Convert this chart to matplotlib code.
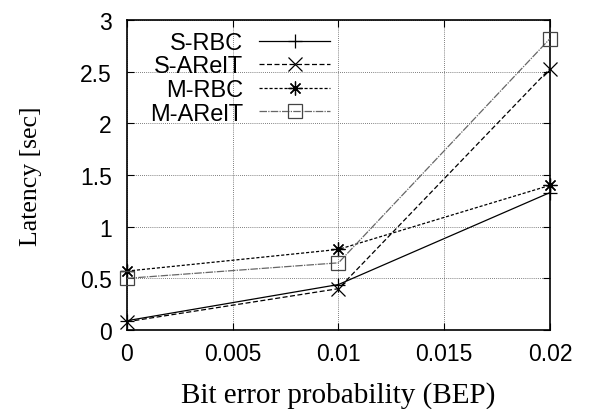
import matplotlib
matplotlib.use("Agg")
import matplotlib.pyplot as plt

BEP = [0.0, 0.01, 0.02]
S_RBC = [0.09, 0.44, 1.33]
S_ARELT = [0.08, 0.40, 2.53]
M_RBC = [0.57, 0.78, 1.40]
M_ARELT = [0.50, 0.65, 2.82]

XTICKS = [0, 0.005, 0.01, 0.015, 0.02]
XTICKLABELS = ["0", "0.005", "0.01", "0.015", "0.02"]
YTICKS = [0, 0.5, 1, 1.5, 2, 2.5, 3]
YTICKLABELS = ["0", "0.5", "1", "1.5", "2", "2.5", "3"]

plt.rcParams.update({
    "font.family": ["Liberation Sans", "DejaVu Sans"],
    "font.size": 16.5,
})

fig = plt.figure(figsize=(5.89, 4.10), dpi=100)
ax = fig.add_axes([0.2156, 0.1927, 0.7182, 0.7561])

# (label, values, colour, marker, linestyle)
SERIES = [
    ("S-RBC", S_RBC, "black", "+", "-"),
    ("S-ARelT", S_ARELT, "black", "x", (0, (4, 2))),
    ("M-RBC", M_RBC, "black", (8, 2, 0), (0, (2.5, 1.5))),
    ("M-ARelT", M_ARELT, "#666666", "s", (0, (6, 1, 1, 1))),
]

for name, ys, color, marker, ls in SERIES:
    ax.plot(BEP, ys, color=color, ls=ls, lw=0.9, marker=marker, ms=10,
            mew=0.9, mfc="none", mec="black" if marker != "s" else "#444444",
            label=name, clip_on=False, zorder=3)

ax.set_xlim(0, 0.02)
ax.set_ylim(0, 3)
ax.set_xticks(XTICKS)
ax.set_xticklabels(XTICKLABELS)
ax.set_yticks(YTICKS)
ax.set_yticklabels(YTICKLABELS)
ax.tick_params(direction="in", length=5, width=0.8, top=True, right=True,
               labelsize=16.5)
ax.tick_params(axis="x", pad=9)
ax.tick_params(axis="y", pad=11)
for s in ax.spines.values():
    s.set_linewidth(1.2)
ax.grid(True, color="#555555", ls=(0, (1, 1.5)), lw=0.6)

ax.set_xlabel("Bit error probability (BEP)", family="Liberation Serif",
              fontsize=21, labelpad=11)
ax.set_ylabel("Latency [sec]", family="Liberation Serif", fontsize=18.5,
              labelpad=27)

ax.legend(loc="upper right", bbox_to_anchor=(0.48, 0.962), frameon=False,
          markerfirst=False, handlelength=3.0, handletextpad=0.68,
          labelspacing=0.07, borderaxespad=0, borderpad=0, fontsize=17)

fig.savefig("out.png", dpi=100)
